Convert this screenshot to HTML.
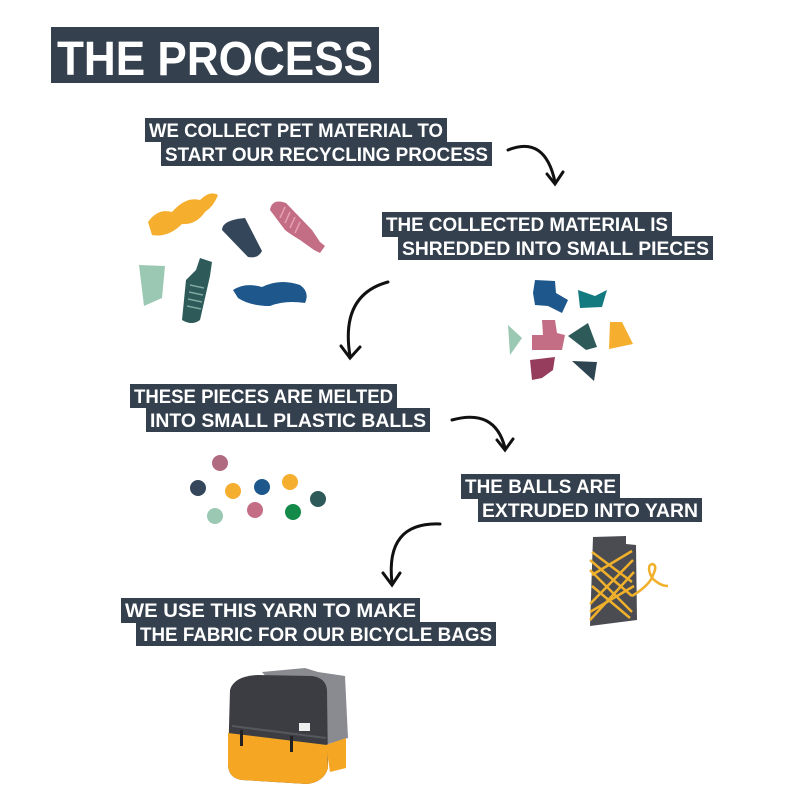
<!DOCTYPE html>
<html><head><meta charset="utf-8"><style>
html,body{margin:0;padding:0;background:#fff;width:800px;height:800px;overflow:hidden}
text{font-family:"Liberation Sans",sans-serif;font-weight:bold;fill:#fff}
</style></head><body>
<svg width="800" height="800" viewBox="0 0 800 800" xmlns="http://www.w3.org/2000/svg">
<rect width="800" height="800" fill="#fff"/>
<rect x="51" y="27" width="328" height="56" fill="#34404d"/>
<text x="57" y="75" font-size="48" textLength="316" lengthAdjust="spacingAndGlyphs" font-weight="900">THE PROCESS</text>
<g fill="#34404d">
<rect x="145" y="118" width="302" height="24"/><rect x="161" y="142" width="331" height="24"/>
<rect x="382" y="212" width="290" height="25"/><rect x="398" y="236" width="315" height="24"/>
<rect x="130" y="384" width="267" height="24"/><rect x="146" y="408" width="284" height="24"/>
<rect x="461" y="474" width="159" height="25"/><rect x="478" y="498" width="224" height="24"/>
<rect x="121" y="598" width="299" height="25"/><rect x="136" y="622" width="360" height="24"/>
</g>
<g font-size="19">
<text x="149" y="137" textLength="294" lengthAdjust="spacingAndGlyphs">WE COLLECT PET MATERIAL TO</text>
<text x="165" y="161" textLength="323" lengthAdjust="spacingAndGlyphs">START OUR RECYCLING PROCESS</text>
<text x="386" y="231" textLength="282" lengthAdjust="spacingAndGlyphs">THE COLLECTED MATERIAL IS</text>
<text x="402" y="255" textLength="307" lengthAdjust="spacingAndGlyphs">SHREDDED INTO SMALL PIECES</text>
<text x="134" y="403" textLength="259" lengthAdjust="spacingAndGlyphs">THESE PIECES ARE MELTED</text>
<text x="150" y="427" textLength="276" lengthAdjust="spacingAndGlyphs">INTO SMALL PLASTIC BALLS</text>
<text x="465" y="493" textLength="151" lengthAdjust="spacingAndGlyphs">THE BALLS ARE</text>
<text x="482" y="517" textLength="216" lengthAdjust="spacingAndGlyphs">EXTRUDED INTO YARN</text>
<text x="125" y="617" textLength="291" lengthAdjust="spacingAndGlyphs">WE USE THIS YARN TO MAKE</text>
<text x="140" y="641" textLength="352" lengthAdjust="spacingAndGlyphs">THE FABRIC FOR OUR BICYCLE BAGS</text>
</g>
<g fill="none" stroke="#111" stroke-width="3" stroke-linecap="round">
<path d="M508 150 Q545 135 555 182"/><path d="M547 174 L555 184 L563 172"/>
<path d="M388 282 Q340 295 350 356"/><path d="M341 346 L350 358 L360 347"/>
<path d="M452 420 Q495 408 505 448"/><path d="M497 440 L505 450 L513 439"/>
<path d="M440 524 Q385 522 392 583"/><path d="M383 573 L392 585 L400 573"/>
</g>
<path d="M148 222 Q158 208 172 212 Q186 196 200 200 Q210 190 218 195 Q214 206 205 212 Q196 225 182 224 Q168 238 152 235 Z" fill="#f5ae2d"/>
<path d="M222 230 Q222 220 245 218 L262 251 Q258 259 248 257 Z" fill="#34465a"/>
<path d="M270 210 Q272 198 286 203 L312 230 L320 242 L325 246 L320 253 L314 250 L300 240 Q290 234 285 230 Z" fill="#c46e86"/>
<g stroke="#e8a0b4" stroke-width="1.5"><path d="M285 207 L280 218"/><path d="M290 212 L285 223"/><path d="M295 217 L290 228"/><path d="M300 222 L295 233"/></g>
<path d="M139 265 L165 266 L162 298 L144 306 Z" fill="#9bc8b2"/>
<path d="M200 258 L212 262 L210 276 L200 320 Q192 326 182 320 L186 280 L196 270 Z" fill="#2f5a5a"/>
<g stroke="#7fa8a0" stroke-width="1.5"><path d="M190 285 L204 288"/><path d="M189 292 L203 295"/><path d="M188 299 L202 302"/><path d="M187 306 L201 309"/></g>
<path d="M233 290 Q245 282 262 287 Q280 278 300 285 Q310 292 305 303 Q285 300 270 306 Q250 306 238 298 Z" fill="#1e578c"/>
<path d="M535 280 L555 281 L556 293 L568 300 L562 313 L548 306 L535 305 L533 293 Z" fill="#1e578c"/>
<path d="M578 290 L595 296 L607 290 L602 307 L580 308 Z" fill="#137a80"/>
<path d="M508 325 L522 338 L510 355 Z" fill="#9bc8b2"/>
<path d="M542 320 L555 320 L557 333 L565 335 L562 350 L532 350 L532 335 L543 335 Z" fill="#c46e86"/>
<path d="M568 336 L588 323 L597 347 L586 350 Z" fill="#2f5a5a"/>
<path d="M610 322 L622 322 L633 344 L609 349 Z" fill="#f5ae2d"/>
<path d="M530 360 L555 357 L553 370 L542 378 L532 380 Z" fill="#963d5e"/>
<path d="M572 361 L597 362 L594 381 Z" fill="#2e4450"/>
<g>
<circle cx="220" cy="463" r="8" fill="#b06b80"/><circle cx="198" cy="488" r="8" fill="#34465a"/>
<circle cx="233" cy="491" r="8" fill="#f5ae2d"/><circle cx="262" cy="487" r="8" fill="#1e578c"/>
<circle cx="290" cy="482" r="8" fill="#f5ae2d"/><circle cx="318" cy="499" r="8" fill="#2f5a5a"/>
<circle cx="215" cy="516" r="8" fill="#9bc8b2"/><circle cx="255" cy="510" r="8" fill="#c46e86"/>
<circle cx="293" cy="512" r="8" fill="#138a4a"/>
</g>
<path d="M593 537 L626 536 L626 544 L636 545 L637 620 L590 626 Z" fill="#4b4c52"/>
<g stroke="#f0b02a" stroke-width="2.5" fill="none">
<path d="M590 560 L632 596"/><path d="M590 570 L632 612"/><path d="M592 586 L630 618"/><path d="M592 552 L632 582"/>
<path d="M590 604 L633 560"/><path d="M590 620 L634 572"/><path d="M592 575 L632 551"/><path d="M590 612 L634 586"/>
<path d="M632 596 Q650 585 653 575 Q658 565 652 564 Q646 566 652 578 Q660 586 668 586"/>
</g>
<path d="M262 672 L305 668 L318 672 L345 676 L348 738 L325 745 Z" fill="#8a8b90"/>
<path d="M230 690 Q234 676 258 675 L312 676 Q326 678 327 690 L328 768 Q324 782 307 784 L242 780 Q228 778 228 764 Z" fill="#3b3d42"/>
<path d="M228 733 L327 745 L328 768 Q324 782 307 784 L242 780 Q228 778 228 764 Z" fill="#f5a623"/>
<path d="M326 745 L346 738 L346 768 L330 772 Z" fill="#f5a623"/>
<path d="M232 726 L326 738" stroke="#55575d" stroke-width="2"/>
<rect x="240" y="730" width="3" height="16" fill="#222"/><rect x="290" y="736" width="3" height="16" fill="#222"/>
<rect x="299" y="723" width="11" height="8" fill="#eee"/>
</svg>
</body></html>
